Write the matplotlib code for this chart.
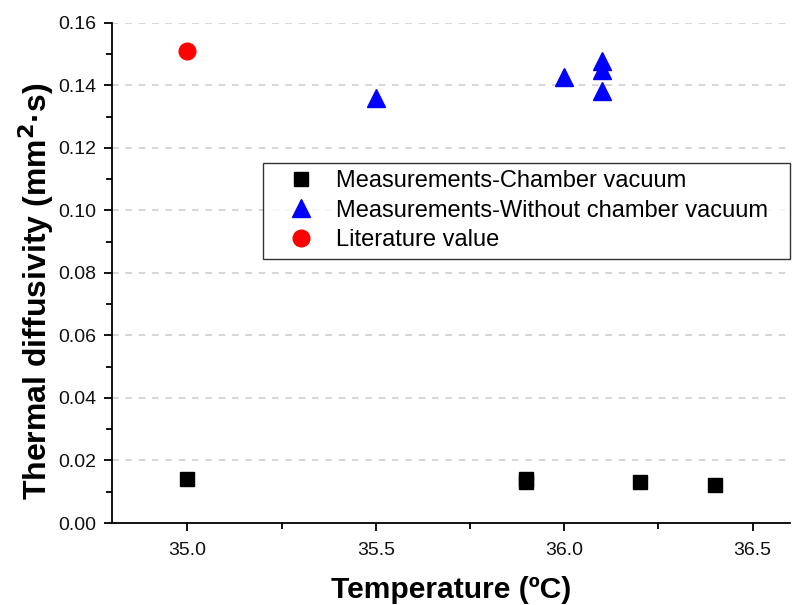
import matplotlib
matplotlib.use("Agg")
import matplotlib.pyplot as plt
from matplotlib.ticker import MultipleLocator

plt.rcParams['font.family'] = ['Liberation Sans', 'DejaVu Sans']

chamber_x = [35.0, 35.9, 35.9, 36.2, 36.4]
chamber_y = [0.014, 0.013, 0.014, 0.013, 0.012]
without_x = [35.5, 36.0, 36.1, 36.1, 36.1]
without_y = [0.136, 0.1425, 0.1476, 0.145, 0.138]
lit_x = [35.0]
lit_y = [0.151]

fig = plt.figure(figsize=(7.97, 6.05), dpi=100)
ax = fig.add_axes([0.1405, 0.1355, 0.851, 0.827])

ax.plot(chamber_x, chamber_y, 's', color='black', markersize=10.5, linestyle='none',
        label='Measurements-Chamber vacuum')
ax.plot(without_x, without_y, '^', color='blue', markersize=13, linestyle='none',
        label='Measurements-Without chamber vacuum')
ax.plot(lit_x, lit_y, 'o', color='red', markersize=12, linestyle='none',
        label='Literature value')

ax.set_xlim(34.8, 36.6)
ax.set_ylim(0, 0.16)
ax.xaxis.set_major_locator(MultipleLocator(0.5))
ax.xaxis.set_minor_locator(MultipleLocator(0.25))
ax.yaxis.set_major_locator(MultipleLocator(0.02))
ax.yaxis.set_minor_locator(MultipleLocator(0.01))
ax.xaxis.set_major_formatter(matplotlib.ticker.FormatStrFormatter('%.1f'))
ax.yaxis.set_major_formatter(matplotlib.ticker.FormatStrFormatter('%.2f'))

for s in ['top', 'right']:
    ax.spines[s].set_visible(False)
for s in ['left', 'bottom']:
    ax.spines[s].set_linewidth(1.3)

ax.tick_params(which='major', direction='out', length=6, width=1.3, labelsize=14, pad=5,
               labelcolor='#111111')
ax.tick_params(axis='x', which='major', pad=8)
ax.tick_params(which='minor', direction='out', length=4, width=1.3)

ax.grid(axis='y', which='major', linestyle=(0, (4, 4)), color='#d0d0d0', linewidth=1.2)
ax.set_axisbelow(True)

ax.set_xlabel('Temperature (ºC)', fontsize=21.6, fontweight='bold', labelpad=12)
ax.set_ylabel('Thermal diffusivity (mm$^\\mathbf{2}$·s)', fontsize=23, fontweight='bold')
ax.yaxis.set_label_coords(-0.083, 0.464)

leg = ax.legend(loc='upper left', bbox_to_anchor=(0.223, 0.528, 0.777, 0.192), mode='expand',
                fontsize=17, frameon=True, fancybox=False, edgecolor='black', borderaxespad=0,
                handletextpad=0.2, labelspacing=0.33, borderpad=0.3, handlelength=2.6)
leg.get_frame().set_linewidth(1.0)

fig.savefig('out.png', dpi=100)
